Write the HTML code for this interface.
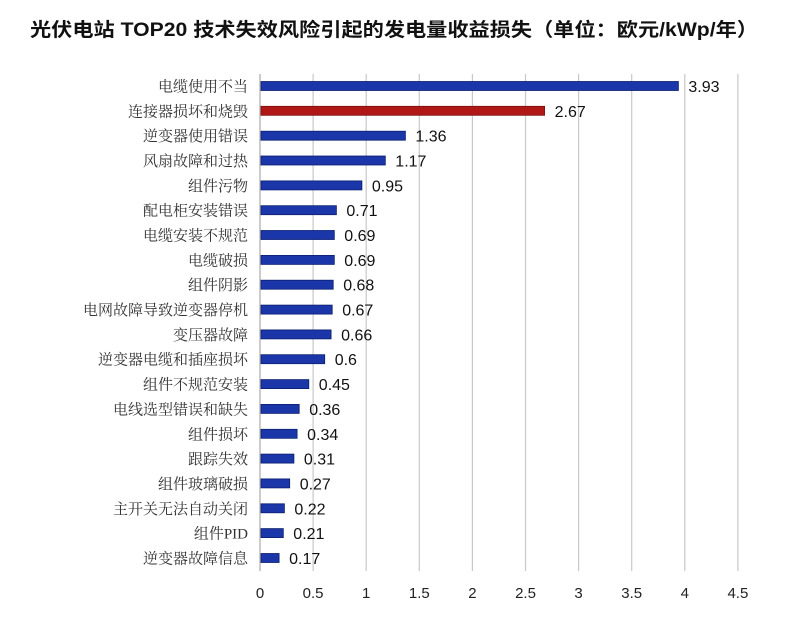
<!DOCTYPE html>
<html><head><meta charset="utf-8"><style>
body{margin:0;background:#fff;}
</style></head><body>
<svg width="786" height="618" xmlns="http://www.w3.org/2000/svg">
<rect width="786" height="618" fill="#fff"/>
<text x="30" y="36" textLength="728" lengthAdjust="spacingAndGlyphs" font-family="'Liberation Sans','Noto Sans CJK SC',sans-serif" font-size="19" font-weight="bold" fill="#111">光伏电站 TOP20 技术失效风险引起的发电量收益损失（单位：欧元/kWp/年）</text>
<g stroke="#c8c8c8" stroke-width="1.2">
<line x1="313.1" y1="74" x2="313.1" y2="571"/><line x1="366.2" y1="74" x2="366.2" y2="571"/><line x1="419.3" y1="74" x2="419.3" y2="571"/><line x1="472.4" y1="74" x2="472.4" y2="571"/><line x1="525.5" y1="74" x2="525.5" y2="571"/><line x1="578.6" y1="74" x2="578.6" y2="571"/><line x1="631.7" y1="74" x2="631.7" y2="571"/><line x1="684.8" y1="74" x2="684.8" y2="571"/><line x1="737.9" y1="74" x2="737.9" y2="571"/>
</g>
<line x1="260" y1="74" x2="260" y2="571" stroke="#aaa" stroke-width="1.2"/>
<g font-family="'Liberation Sans',sans-serif" font-size="15" fill="#222" text-anchor="middle">
<text x="260" y="598">0</text><text x="313.1" y="598">0.5</text><text x="366.2" y="598">1</text><text x="419.3" y="598">1.5</text><text x="472.4" y="598">2</text><text x="525.5" y="598">2.5</text><text x="578.6" y="598">3</text><text x="631.7" y="598">3.5</text><text x="684.8" y="598">4</text><text x="737.9" y="598">4.5</text>
</g>
<g fill="#1a36a8" stroke="#0c1f70" stroke-width="0.8">
<rect x="261" y="81.5" width="417.4" height="9"/>
<rect x="261" y="106.3" width="283.6" height="9" fill="#b01818" stroke="#7a0f0f"/>
<rect x="261" y="131.2" width="144.4" height="9"/>
<rect x="261" y="156.0" width="124.3" height="9"/>
<rect x="261" y="180.9" width="100.9" height="9"/>
<rect x="261" y="205.7" width="75.4" height="9"/>
<rect x="261" y="230.5" width="73.3" height="9"/>
<rect x="261" y="255.4" width="73.3" height="9"/>
<rect x="261" y="280.2" width="72.2" height="9"/>
<rect x="261" y="305.1" width="71.2" height="9"/>
<rect x="261" y="329.9" width="70.1" height="9"/>
<rect x="261" y="354.7" width="63.7" height="9"/>
<rect x="261" y="379.6" width="47.8" height="9"/>
<rect x="261" y="404.4" width="38.2" height="9"/>
<rect x="261" y="429.3" width="36.1" height="9"/>
<rect x="261" y="454.1" width="32.9" height="9"/>
<rect x="261" y="478.9" width="28.7" height="9"/>
<rect x="261" y="503.8" width="23.4" height="9"/>
<rect x="261" y="528.6" width="22.3" height="9"/>
<rect x="261" y="553.5" width="18.1" height="9"/>
</g>
<g font-family="'Liberation Serif','Noto Serif CJK SC',serif" font-size="15" fill="#333" text-anchor="end">
<text x="248" y="91.5">电缆使用不当</text>
<text x="248" y="116.3">连接器损坏和烧毁</text>
<text x="248" y="141.2">逆变器使用错误</text>
<text x="248" y="166.0">风扇故障和过热</text>
<text x="248" y="190.9">组件污物</text>
<text x="248" y="215.7">配电柜安装错误</text>
<text x="248" y="240.5">电缆安装不规范</text>
<text x="248" y="265.4">电缆破损</text>
<text x="248" y="290.2">组件阴影</text>
<text x="248" y="315.1">电网故障导致逆变器停机</text>
<text x="248" y="339.9">变压器故障</text>
<text x="248" y="364.7">逆变器电缆和插座损坏</text>
<text x="248" y="389.6">组件不规范安装</text>
<text x="248" y="414.4">电线选型错误和缺失</text>
<text x="248" y="439.3">组件损坏</text>
<text x="248" y="464.1">跟踪失效</text>
<text x="248" y="488.9">组件玻璃破损</text>
<text x="248" y="513.8">主开关无法自动关闭</text>
<text x="248" y="538.6">组件PID</text>
<text x="248" y="563.5">逆变器故障信息</text>
</g>
<g font-family="'Liberation Sans',sans-serif" font-size="16" fill="#111">
<text x="688.4" y="92">3.93</text>
<text x="554.6" y="116.8">2.67</text>
<text x="415.4" y="141.7">1.36</text>
<text x="395.3" y="166.5">1.17</text>
<text x="371.9" y="191.4">0.95</text>
<text x="346.4" y="216.2">0.71</text>
<text x="344.3" y="241">0.69</text>
<text x="344.3" y="265.9">0.69</text>
<text x="343.2" y="290.7">0.68</text>
<text x="342.2" y="315.6">0.67</text>
<text x="341.1" y="340.4">0.66</text>
<text x="334.7" y="365.2">0.6</text>
<text x="318.8" y="390.1">0.45</text>
<text x="309.2" y="414.9">0.36</text>
<text x="307.1" y="439.8">0.34</text>
<text x="303.9" y="464.6">0.31</text>
<text x="299.7" y="489.4">0.27</text>
<text x="294.4" y="514.3">0.22</text>
<text x="293.3" y="539.1">0.21</text>
<text x="289.1" y="564">0.17</text>
</g>
</svg>
</body></html>
